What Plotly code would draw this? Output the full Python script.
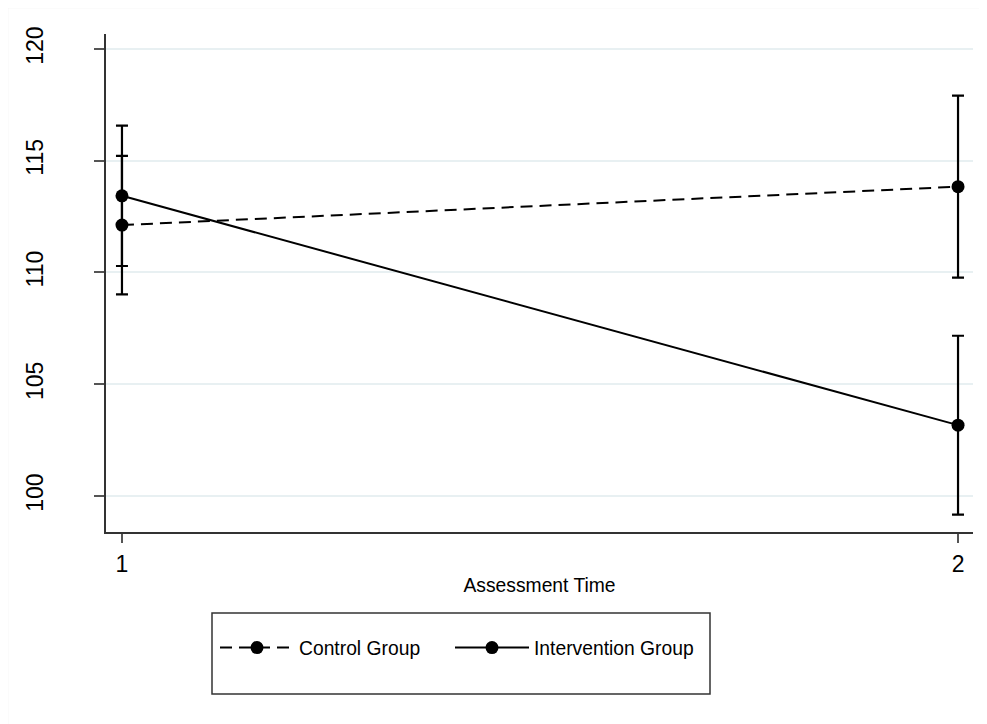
import plotly.graph_objects as go

# ---- data ----
times = [1, 2]
control_mean = [112.12, 113.84]
control_err = [3.1, 4.07]
intervention_mean = [113.43, 103.17]
intervention_err = [3.14, 4.0]
y_ticks = [100, 105, 110, 115, 120]
x_ticks = [1, 2]

FONT = "Liberation Sans, Arial, sans-serif"

fig = go.Figure()
fig.add_trace(go.Scatter(
    x=times, y=control_mean, name="Control Group", mode="lines+markers",
    line=dict(color="black", width=2, dash="12px,7px"),
    marker=dict(color="black", size=13),
    error_y=dict(type="data", array=control_err, color="black", thickness=2.2, width=6),
    legend="legend",
))
fig.add_trace(go.Scatter(
    x=times, y=intervention_mean, name="Intervention Group", mode="lines+markers",
    line=dict(color="black", width=2),
    marker=dict(color="black", size=13),
    error_y=dict(type="data", array=intervention_err, color="black", thickness=2.2, width=6),
    legend="legend2",
))

OFF = 8  # page body margin
W, H = 987 - OFF, 724 - OFF
# target plot area in page pixels: x 106..973, y 34..532
L, T = 106 - OFF, 34 - OFF
R = W - (973 - OFF)
B = H - (532 - OFF)
pw, ph = W - L - R, H - T - B

def px_x(p):
    return (p - OFF - L) / pw

def px_y(p):
    return (H - B - (p - OFF)) / ph

LEG_FONT = 19.3

def legend_at(xpix):
    return dict(
        orientation="h", x=px_x(xpix), xanchor="left", y=px_y(648), yanchor="middle",
        bgcolor="rgba(0,0,0,0)", borderwidth=0, font=dict(size=LEG_FONT),
        itemwidth=74,
    )

fig.update_layout(
    width=W, height=H,
    margin=dict(l=L, r=R, t=T, b=B),
    paper_bgcolor="white", plot_bgcolor="white",
    font=dict(family=FONT, color="black", size=20),
    showlegend=True,
    legend=legend_at(215),
    legend2=legend_at(450),
    xaxis=dict(
        range=[0.9809, 2.0179], tickvals=x_ticks, ticktext=[str(v) for v in x_ticks],
        showgrid=False, zeroline=False, showline=True, linecolor="#333", linewidth=1.5,
        ticks="outside", ticklen=9, tickwidth=1.5, tickcolor="#555",
        tickfont=dict(size=23), ticklabelstandoff=2,
        title=dict(text="Assessment Time", font=dict(size=LEG_FONT), standoff=2),
    ),
    yaxis=dict(
        range=[98.39, 120.67], tickvals=y_ticks,
        showgrid=True, gridcolor="#e8f0f2", gridwidth=2,
        zeroline=False, showline=True, linecolor="#333", linewidth=1.5,
        ticks="outside", ticklen=10, tickwidth=1.5, tickcolor="#555",
        tickangle=-90, tickfont=dict(size=23), ticklabelstandoff=42,
    ),
    shapes=[
        dict(type="rect", xref="paper", yref="paper",
             x0=px_x(212), x1=px_x(710), y0=px_y(694), y1=px_y(613),
             line=dict(color="#333", width=1.5), fillcolor="rgba(0,0,0,0)", layer="below"),
        dict(type="rect", xref="paper", yref="paper",
             x0=px_x(7.5), x1=px_x(1000), y0=px_y(740), y1=px_y(7.5),
             line=dict(color="#eeeeee", width=1.5), fillcolor="rgba(0,0,0,0)", layer="below"),
    ],
)

fig.write_html("out.html")
